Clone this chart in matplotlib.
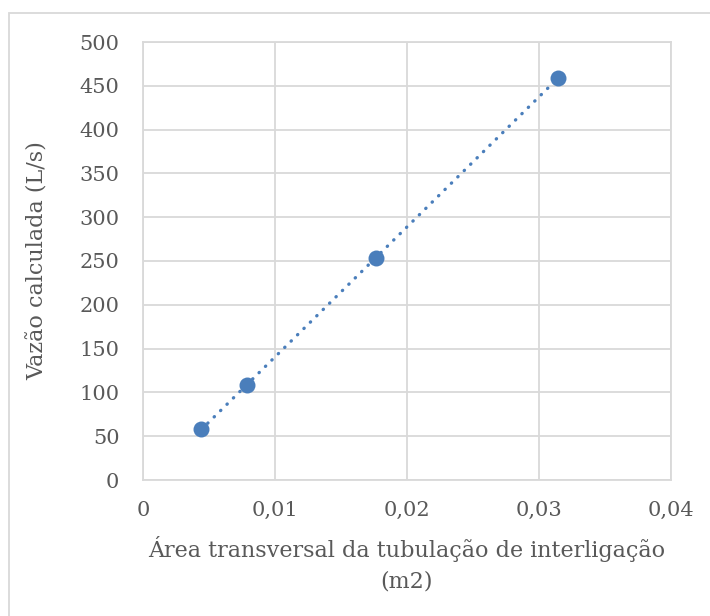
import numpy as np
import matplotlib
matplotlib.use("Agg")
import matplotlib.pyplot as plt
from matplotlib.patches import Rectangle
from matplotlib.ticker import FuncFormatter

# Cross-sectional area of the connecting pipe (m2) and computed flow (L/s)
area_m2 = [0.00442, 0.00785, 0.01767, 0.03142]
flow_ls = [58.2, 108.4, 253.4, 458.9]

x_ticks = [0, 0.01, 0.02, 0.03, 0.04]
y_ticks = [0, 50, 100, 150, 200, 250, 300, 350, 400, 450, 500]

text_color = "#595959"
grid_color = "#D9D9D9"
point_color = "#4A7EBB"

plt.rcParams["font.family"] = ["DejaVu Serif"]

W, H = 710, 616
fig = plt.figure(figsize=(W / 100, H / 100), dpi=100)
ax = fig.add_axes([143 / W, (H - 480) / H, (671 - 143) / W, (480 - 42) / H])

# Chart-area frame
fig.patches.append(Rectangle((9 / W, -0.1), 1.2, (H - 13) / H + 0.1,
                             transform=fig.transFigure, fill=False,
                             edgecolor=grid_color, linewidth=1.3, zorder=0))

ax.set_xlim(x_ticks[0], x_ticks[-1])
ax.set_ylim(y_ticks[0], y_ticks[-1])
ax.set_xticks(x_ticks)
ax.set_yticks(y_ticks)
ax.xaxis.set_major_formatter(FuncFormatter(
    lambda v, p: "0" if v == 0 else f"{v:.2f}".replace(".", ",")))
ax.yaxis.set_major_formatter(FuncFormatter(lambda v, p: f"{v:.0f}"))

ax.grid(True, color=grid_color, linewidth=1.3)
ax.set_axisbelow(True)
for s in ax.spines.values():
    s.set_color(grid_color)
    s.set_linewidth(1.3)
ax.tick_params(length=0, labelsize=15, colors=text_color)
ax.tick_params(axis="y", pad=17)
ax.tick_params(axis="x", pad=15)

# Linear trendline through the points
coef = np.polyfit(area_m2, flow_ls, 1)
xt = np.array([min(area_m2), max(area_m2)])
ax.plot(xt, np.polyval(coef, xt), linestyle=(0, (0.1, 2.6)),
        dash_capstyle="round", color=point_color, linewidth=2.4, zorder=2)

ax.plot(area_m2, flow_ls, "o", color=point_color, markersize=11.5,
        markeredgewidth=0, zorder=3)

ax.set_xlabel("Área transversal da tubulação de interligação\n(m2)",
              fontsize=16, color=text_color, labelpad=12, linespacing=1.45)
ax.set_ylabel("Vazão calculada (L/s)", fontsize=16, color=text_color,
              labelpad=22)

fig.savefig("out.png", dpi=100)
